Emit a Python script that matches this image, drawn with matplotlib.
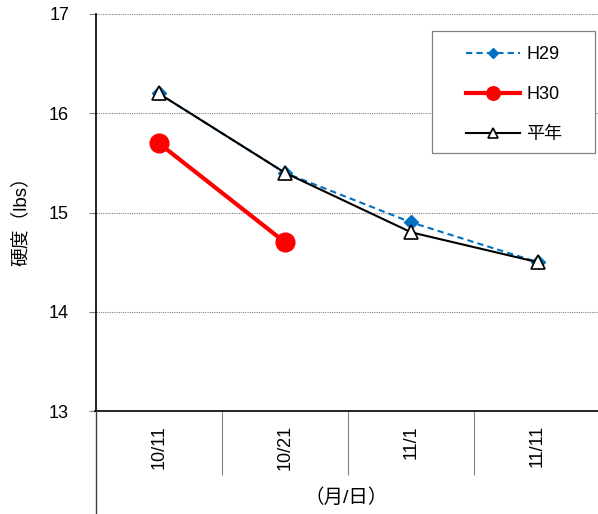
import matplotlib
matplotlib.use('Agg')
import matplotlib.pyplot as plt
from matplotlib.lines import Line2D
from matplotlib.patches import Rectangle

plt.rcParams['font.family'] = ['Liberation Sans', 'Noto Sans CJK JP']

dates = ['10/11', '10/21', '11/1', '11/11']
h29 = [16.2, 15.4, 14.9, 14.5]
h30 = [15.7, 14.7]
avg = [16.2, 15.4, 14.8, 14.5]

W, H = 598, 514
fig = plt.figure(figsize=(W / 100, H / 100), dpi=100)
ax = fig.add_axes([95.5 / W, (H - 411) / H, (598 - 95.5) / W, 397 / H])

x = list(range(len(dates)))
ax.plot(x, h29, color='#0070C0', linestyle=(0, (3, 2)), linewidth=1.5,
        marker='D', markersize=7, label='H29', zorder=3)
ax.plot(x[:len(h30)], h30, color='#FF0000', linewidth=3,
        marker='o', markersize=13.5, label='H30', zorder=4)
ax.plot(x, avg, color='black', linewidth=1.5, marker='^', markersize=10,
        markerfacecolor='white', markeredgecolor='black', markeredgewidth=1.2,
        label='平年', zorder=5)

ax.set_ylim(13, 17)
ax.set_yticks([13, 14, 15, 16, 17])
ax.set_xlim(-0.5, -0.5 + 502.5 / 126.3)
ax.set_xticks(x)
ax.set_xticklabels(dates, rotation=90, fontsize=13)
ax.set_xticks([0.5, 1.5, 2.5], minor=True)
ax.tick_params(axis='x', which='major', length=0, pad=10)
ax.tick_params(axis='x', which='minor', length=46, color='#808080', width=0.8)
ax.tick_params(axis='y', length=5, color='#808080', pad=14, labelsize=13)

ax.grid(axis='y', color='#808080', linestyle=(0, (1, 1)), linewidth=0.8)
for s in ['top', 'right']:
    ax.spines[s].set_visible(False)
ax.spines['left'].set_linewidth(1.2)
ax.spines['bottom'].set_linewidth(1.2)

# left axis line continues down through the category label band
fig.add_artist(Line2D([95.5 / W, 95.5 / W], [0, (H - 411) / H],
                      color='#404040', linewidth=1.0))

fig.text(21 / W, 1 - 217 / H, '硬度（lbs）', rotation=90, ha='center', va='center',
         fontsize=13.5)
fig.text(346 / W, 1 - 498 / H, '（月/日）', ha='center', va='center', fontsize=14)

# legend entries without frame, boxed separately
handles, labels = ax.get_legend_handles_labels()
fig.add_artist(Rectangle((432 / W, 1 - 153 / H), 163 / W, 122 / H,
                         transform=fig.transFigure, fill=True, facecolor='white',
                         edgecolor='#808080', linewidth=0.9, zorder=2))
leg = fig.legend(handles, labels, loc='upper left',
                 bbox_to_anchor=(466 / W, 1 - 46 / H), fontsize=13, frameon=False,
                 handlelength=3.0, labelspacing=1.27, borderpad=0, markerscale=0.72,
                 handletextpad=0.35, borderaxespad=0)
leg.set_zorder(6)

fig.savefig('out.png', dpi=100)
